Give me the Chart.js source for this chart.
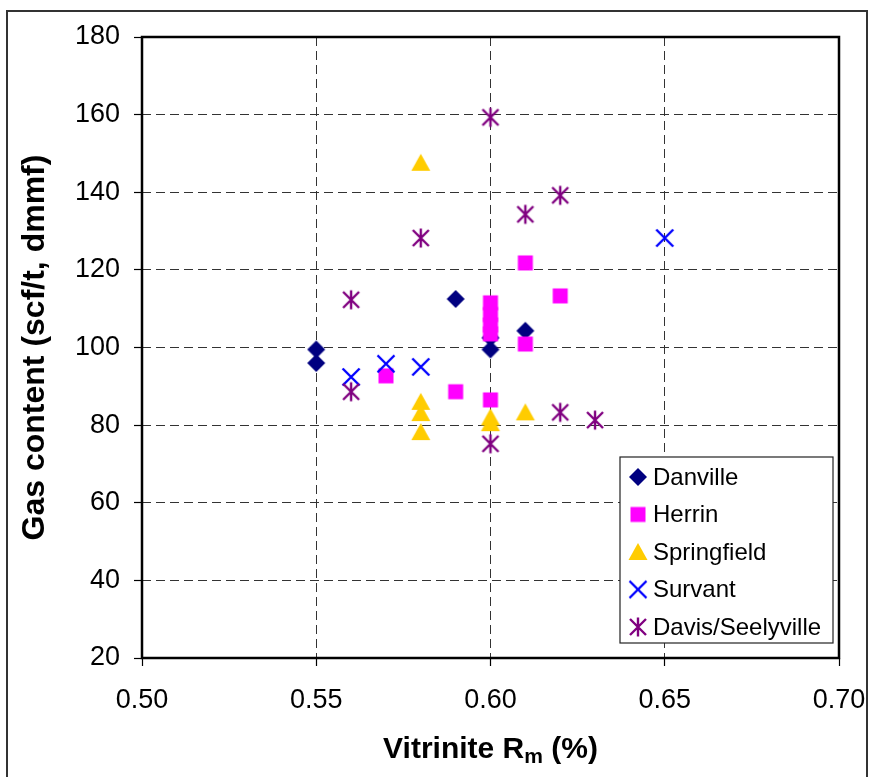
<!DOCTYPE html>
<html>
<head>
<meta charset="utf-8">
<script src="https://cdn.jsdelivr.net/npm/chart.js@4"></script>
<style>
  html, body { margin: 0; padding: 0; background: #fff; }
  #wrap { position: relative; width: 869px; height: 777px; overflow: hidden; }
</style>
</head>
<body>
<div id="wrap">
  <canvas id="gas" width="869" height="777"></canvas>
</div>
<script>
// 탄층별 가스 함량 vs 비트리나이트 반사율
const seriesNames = ["Danville", "Herrin", "Springfield", "Survant", "Davis/Seelyville"];

const danvilleX = [0.55, 0.55, 0.59, 0.60, 0.60, 0.61];
const danvilleY = [99.5, 96, 112.5, 99.5, 102.5, 104.3];

const herrinX = [0.57, 0.59, 0.60, 0.60, 0.60, 0.60, 0.60, 0.61, 0.61, 0.62];
const herrinY = [92.7, 88.6, 111.5, 108.5, 105.8, 103.5, 86.5, 121.8, 100.9, 113.3];

const springfieldX = [0.58, 0.58, 0.58, 0.58, 0.60, 0.60, 0.61];
const springfieldY = [147.6, 86, 83.1, 78.2, 82, 80.5, 83.3];

const survantX = [0.56, 0.57, 0.58, 0.65];
const survantY = [92.4, 95.8, 95, 128.2];

const davisX = [0.56, 0.56, 0.58, 0.60, 0.60, 0.61, 0.62, 0.62, 0.63];
const davisY = [112.3, 88.6, 128.2, 159.3, 75.2, 134.3, 139.2, 83.3, 81.3];

const xTicks = [0.50, 0.55, 0.60, 0.65, 0.70];
const yTicks = [20, 40, 60, 80, 100, 120, 140, 160, 180];

// 마커 이미지 (엑셀 스타일)
function makeMarker(draw) {
  const c = document.createElement("canvas");
  c.width = 24;
  c.height = 24;
  const g = c.getContext("2d");
  g.translate(12, 12);
  draw(g);
  return c;
}

const diamond = makeMarker((g) => {
  g.fillStyle = "#000080";
  g.beginPath();
  g.moveTo(0, -9);
  g.lineTo(9, 0);
  g.lineTo(0, 9);
  g.lineTo(-9, 0);
  g.closePath();
  g.fill();
});

const square = makeMarker((g) => {
  g.fillStyle = "#FF00FF";
  g.fillRect(-7.5, -7.5, 15, 15);
});

const triangle = makeMarker((g) => {
  g.fillStyle = "#FFCC00";
  g.beginPath();
  g.moveTo(0, -9);
  g.lineTo(9.5, 8);
  g.lineTo(-9.5, 8);
  g.closePath();
  g.fill();
});

const cross = makeMarker((g) => {
  g.strokeStyle = "#0000FF";
  g.lineWidth = 2.4;
  g.beginPath();
  g.moveTo(-8.5, -8.5);
  g.lineTo(8.5, 8.5);
  g.moveTo(8.5, -8.5);
  g.lineTo(-8.5, 8.5);
  g.stroke();
});

const asterisk = makeMarker((g) => {
  g.strokeStyle = "#800080";
  g.lineWidth = 2.4;
  g.beginPath();
  g.moveTo(-8, -8);
  g.lineTo(8, 8);
  g.moveTo(8, -8);
  g.lineTo(-8, 8);
  g.moveTo(0, -9.5);
  g.lineTo(0, 9.5);
  g.stroke();
});

const markers = [diamond, square, triangle, cross, asterisk];

function toPoints(xs, ys) {
  return xs.map((x, i) => ({ x: x, y: ys[i] }));
}

const allX = [danvilleX, herrinX, springfieldX, survantX, davisX];
const allY = [danvilleY, herrinY, springfieldY, survantY, davisY];

const datasets = seriesNames.map((name, i) => ({
  label: name,
  data: toPoints(allX[i], allY[i]),
  pointStyle: markers[i],
  pointRadius: 9,
  order: seriesNames.length - i, // 뒤 계열이 위에 그려지도록
}));

// 외곽 테두리, 플롯 테두리, 축 제목, 범례
const decorPlugin = {
  id: "decor",
  beforeDraw(chart) {
    const ctx = chart.ctx;
    ctx.save();
    ctx.fillStyle = "#fff";
    ctx.fillRect(0, 0, chart.width, chart.height);
    ctx.strokeStyle = "#333";
    ctx.lineWidth = 2;
    ctx.strokeRect(7, 11, 860, 800);
    ctx.restore();
  },
  beforeDatasetsDraw(chart) {
    const { ctx, chartArea } = chart;
    ctx.save();
    ctx.strokeStyle = "#000";
    ctx.lineWidth = 2.5;
    ctx.strokeRect(chartArea.left, chartArea.top, chartArea.right - chartArea.left, chartArea.bottom - chartArea.top);
    ctx.restore();
  },
  afterDraw(chart) {
    const { ctx, chartArea } = chart;
    ctx.save();
    ctx.fillStyle = "#000";

    // y축 제목
    ctx.font = "bold 32px 'Liberation Sans', Arial, sans-serif";
    ctx.textAlign = "center";
    ctx.textBaseline = "alphabetic";
    ctx.translate(44, (chartArea.top + chartArea.bottom) / 2);
    ctx.rotate(-Math.PI / 2);
    ctx.fillText("Gas content (scf/t, dmmf)", 0, 0);
    ctx.setTransform(1, 0, 0, 1, 0, 0);

    // x축 제목 (아래첨자 m)
    const big = "bold 30px 'Liberation Sans', Arial, sans-serif";
    const small = "bold 21px 'Liberation Sans', Arial, sans-serif";
    const part1 = "Vitrinite R";
    const part2 = "m";
    const part3 = " (%)";
    ctx.font = big;
    const w1 = ctx.measureText(part1).width;
    const w3 = ctx.measureText(part3).width;
    ctx.font = small;
    const w2 = ctx.measureText(part2).width;
    const total = w1 + w2 + w3;
    let x = (chartArea.left + chartArea.right) / 2 - total / 2;
    const base = 758;
    ctx.textAlign = "left";
    ctx.font = big;
    ctx.fillText(part1, x, base);
    x += w1;
    ctx.font = small;
    ctx.fillText(part2, x, base + 5);
    x += w2;
    ctx.font = big;
    ctx.fillText(part3, x, base);

    // 범례
    const box = { x: 620, y: 457, w: 213, h: 186 };
    ctx.fillStyle = "#fff";
    ctx.fillRect(box.x, box.y, box.w, box.h);
    ctx.strokeStyle = "#222";
    ctx.lineWidth = 1.2;
    ctx.strokeRect(box.x, box.y, box.w, box.h);
    ctx.font = "24px 'Liberation Sans', Arial, sans-serif";
    ctx.textBaseline = "middle";
    ctx.fillStyle = "#000";
    chart.data.datasets.forEach((ds, i) => {
      const cy = 477 + i * 37.5;
      const img = ds.pointStyle;
      ctx.drawImage(img, 638 - img.width / 2, cy - img.height / 2);
      ctx.fillText(ds.label, 653, cy + 1);
    });
    ctx.restore();
  },
};

new Chart(document.getElementById("gas"), {
  type: "scatter",
  data: { datasets: datasets },
  options: {
    responsive: false,
    animation: false,
    layout: {
      padding: { left: 0, top: 37, right: 30, bottom: 0 },
    },
    scales: {
      x: {
        type: "linear",
        min: 0.5,
        max: 0.7,
        afterBuildTicks(scale) {
          scale.ticks = xTicks.map((v) => ({ value: v }));
        },
        afterFit(scale) {
          scale.height = 119;
          // 끝 라벨 때문에 플롯 영역이 줄어들지 않게
          scale.paddingLeft = 0;
          scale.paddingRight = 0;
        },
        ticks: {
          callback: (v) => Number(v).toFixed(2),
          color: "#000",
          font: { family: "'Liberation Sans', Arial, sans-serif", size: 27 },
          padding: 18,
          maxRotation: 0,
          minRotation: 0,
        },
        grid: {
          color: "#333",
          lineWidth: 1,
          tickLength: 8,
          tickColor: "#000",
          tickWidth: 1.2,
        },
        border: { display: false, dash: [9, 5] },
      },
      y: {
        type: "linear",
        min: 20,
        max: 180,
        afterBuildTicks(scale) {
          scale.ticks = yTicks.map((v) => ({ value: v }));
        },
        afterFit(scale) {
          scale.width = 142;
        },
        ticks: {
          color: "#000",
          font: { family: "'Liberation Sans', Arial, sans-serif", size: 27 },
          padding: 14,
        },
        grid: {
          color: "#333",
          lineWidth: 1,
          tickLength: 8,
          tickColor: "#000",
          tickWidth: 1.2,
        },
        border: { display: false, dash: [9, 5] },
      },
    },
    plugins: {
      legend: { display: false },
      tooltip: { enabled: false },
    },
  },
  plugins: [decorPlugin],
});
</script>
</body>
</html>
